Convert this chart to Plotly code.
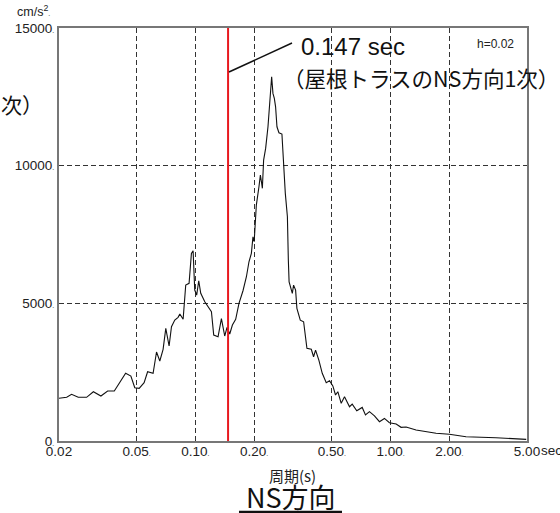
import plotly.graph_objects as go

# Acceleration response spectrum, NS direction (h=0.02)
period_s = [0.020, 0.0219, 0.0232, 0.0251, 0.0277, 0.0300, 0.0328, 0.0355, 0.0384,
            0.0439, 0.0467, 0.0489, 0.0515, 0.0546, 0.0569, 0.0607, 0.0632, 0.0657,
            0.0683, 0.0705, 0.0733, 0.0754, 0.0784, 0.0815, 0.0832, 0.0865, 0.0892,
            0.0928, 0.0954, 0.0973, 0.0992, 0.1015, 0.1040, 0.1065, 0.1117, 0.1161,
            0.1208, 0.1241, 0.1306, 0.1359, 0.1413, 0.1452, 0.1499, 0.1547, 0.1608,
            0.1672, 0.1753, 0.1825, 0.1881, 0.1935, 0.1972, 0.2000, 0.2052, 0.2116,
            0.2152, 0.2185, 0.2203, 0.2236, 0.2290, 0.2354, 0.2421, 0.2458, 0.2496,
            0.2537, 0.2575, 0.2617, 0.2679, 0.2775, 0.2888, 0.2960, 0.2993, 0.3020,
            0.3137, 0.3184, 0.3261, 0.3311, 0.3446, 0.3584, 0.3727, 0.3924, 0.4031,
            0.4127, 0.4290, 0.4466, 0.4681, 0.4866, 0.5059, 0.5223, 0.5366, 0.5585,
            0.5807, 0.6161, 0.6359, 0.6713, 0.7155, 0.7437, 0.7794, 0.8268, 0.8770,
            0.9300, 0.9866, 1.068, 1.132, 1.201, 1.351, 1.520, 1.710, 2.000, 2.435,
            3.467, 4.953]
accel_cms2 = [1550, 1587, 1696, 1587, 1587, 1790, 1634, 1816, 1816,
              2458, 2360, 1935, 1914, 2117, 2516, 2458, 3232, 2905,
              3330, 4092, 3450, 4150, 4394, 4492, 4611, 4419, 5664,
              5726, 6815, 6910, 5483, 5300, 5820, 5363, 5058, 4877,
              4695, 3849, 3787, 4441, 3813, 4128, 3885, 4212, 4419,
              5000, 5457, 5966, 6510, 6815, 7418, 7237, 8569, 9234,
              9658, 9357, 9176, 10203, 10628, 11412, 12502, 13228, 12625,
              12443, 12138, 11412, 11194, 11147, 8994, 8144, 6570, 5780,
              5360, 5660, 5480, 4820, 4390, 4330, 3370, 3330, 3060,
              3300, 2940, 2460, 2120, 2190, 2000, 1670, 1790, 1370,
              1610, 1245, 1340, 1100, 1220, 945, 1065, 910, 700,
              820, 665, 617, 497, 510, 400, 338, 280, 243, 156,
              120, 60]

# Marked natural period of the roof truss
roof_period = 0.147

x_ticks = [0.02, 0.05, 0.1, 0.2, 0.5, 1, 2, 5]
x_tick_text = ["0.02", "0.05", "0.10", "0.20", "0.50", "1.00", "2.00", "5.00"]
y_ticks = [0, 5000, 10000, 15000]
y_tick_text = ["0", "5000", "10000", "15000"]

DOT = "<span style='font-size:7px'>.</span>"
LAT = "Arial, Liberation Sans, Noto Sans CJK JP, sans-serif"
JP = "Noto Sans CJK JP, Arial, sans-serif"

fig = go.Figure()
fig.add_trace(go.Scatter(x=period_s, y=accel_cms2, mode="lines",
                         line=dict(color="#111111", width=1.1),
                         showlegend=False, hoverinfo="skip"))
fig.add_trace(go.Scatter(x=[roof_period, roof_period], y=[y_ticks[0], y_ticks[-1]],
                         mode="lines", line=dict(color="#e8191f", width=2),
                         showlegend=False, hoverinfo="skip", cliponaxis=False))

fig.update_xaxes(type="log", range=[-1.69897, 0.69897],
                 tickvals=x_ticks,
                 ticktext=[t + (DOT if t not in ("0.02", "5.00") else "") for t in x_tick_text],
                 ticks="", ticklabelstandoff=-3,
                 showline=True, mirror=True, linecolor="#777777", linewidth=2,
                 showgrid=True, gridcolor="#333333", gridwidth=1, griddash="5px,3px",
                 zeroline=False, tickfont=dict(family=LAT, size=13.5, color="#222222"))
fig.update_yaxes(range=[0, 15000], tickvals=y_ticks,
                 ticktext=[t + DOT for t in y_tick_text],
                 ticks="", showline=True, mirror=True, linecolor="#777777", linewidth=2,
                 showgrid=True, gridcolor="#333333", gridwidth=1, griddash="5px,3px",
                 zeroline=False, tickfont=dict(family=LAT, size=13.5, color="#222222"))

annots = [
    dict(text="cm/s<sup>2</sup>" + DOT, x=-0.016, y=1.042, xanchor="right", yanchor="middle",
         font=dict(family=LAT, size=12.5, color="#222222")),
    dict(text="sec", x=1.026, y=-0.022, xanchor="left", yanchor="middle",
         font=dict(family=LAT, size=13.5, color="#222222")),
    dict(text="h=0.02", x=0.977, y=0.962, xanchor="right", yanchor="middle",
         font=dict(family=LAT, size=12, color="#222222")),
    dict(text="0.147 sec", x=0.512, y=0.954, xanchor="left", yanchor="middle",
         font=dict(family=LAT, size=24, color="#111111")),
    dict(text="（屋根トラスのNS方向1次）", x=0.474, y=0.879, xanchor="left", yanchor="middle",
         font=dict(family=JP, size=21.5, color="#111111")),
    dict(text="次）", x=-0.128, y=0.816, xanchor="left", yanchor="middle",
         font=dict(family=JP, size=21, color="#111111")),
    dict(text="周期(s)", x=0.498, y=-0.083, xanchor="center", yanchor="middle",
         font=dict(family=JP, size=15, color="#222222"), borderpad=0),
    dict(text="NS方向", x=0.496, y=-0.134, xanchor="center", yanchor="middle",
         font=dict(family=JP, size=27, color="#111111"), borderpad=0),
]
for a in annots:
    fig.add_annotation(xref="paper", yref="paper", showarrow=False, **a)

# leader line to the period marker, and title underline
fig.add_shape(type="line", xref="paper", yref="paper",
              x0=0.3632, y0=0.8935, x1=0.4979, y1=0.9637,
              line=dict(color="#111111", width=1.5))
fig.add_shape(type="line", xref="paper", yref="paper",
              x0=0.3846, y0=-0.172, x1=0.6047, y1=-0.172,
              line=dict(color="#111111", width=2.5))

fig.update_layout(width=560, height=513,
                  margin=dict(l=59, r=33, t=28, b=72),
                  paper_bgcolor="white", plot_bgcolor="white",
                  showlegend=False)

fig.write_html("out.html")
